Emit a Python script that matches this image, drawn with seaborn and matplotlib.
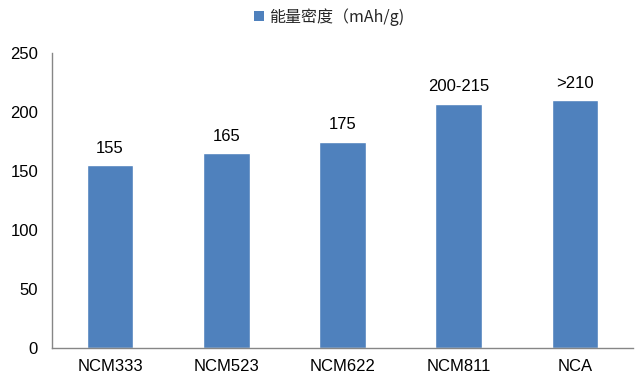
import matplotlib
matplotlib.use("Agg")
import matplotlib.pyplot as plt
import seaborn as sns
import pandas as pd
from matplotlib.patches import Patch

categories = ["NCM333", "NCM523", "NCM622", "NCM811", "NCA"]
energy_density = [155, 165, 175, 207, 210]
value_labels = ["155", "165", "175", "200-215", ">210"]
series_name = "能量密度（mAh/g)"

sns.set_theme(style="white")
plt.rcParams["font.family"] = ["Liberation Sans", "Noto Sans CJK SC", "DejaVu Sans"]

df = pd.DataFrame({"category": categories, "value": energy_density})

fig = plt.figure(figsize=(6.35, 3.76), dpi=100)
ax = fig.add_axes([52 / 635, 28 / 376, 581 / 635, 295 / 376])

bar_color = "#4F81BD"
sns.barplot(data=df, x="category", y="value", color=bar_color, width=0.4,
            saturation=1, ax=ax)

for i, (v, lab) in enumerate(zip(energy_density, value_labels)):
    ax.text(i, v + 8, lab, ha="center", va="bottom", fontsize=12, color="#000000")

ax.set_xlim(-0.5, len(categories) - 0.5)
ax.set_ylim(0, 250)
ax.set_yticks(range(0, 251, 50))
ax.set_xlabel("")
ax.set_ylabel("")

axis_color = "#868686"
for side in ["top", "right"]:
    ax.spines[side].set_visible(False)
for side in ["left", "bottom"]:
    ax.spines[side].set_color(axis_color)
    ax.spines[side].set_linewidth(1)

ax.tick_params(axis="y", which="major", direction="out", length=4, width=1,
               color=axis_color, labelsize=12, labelcolor="#000000", pad=6)
ax.tick_params(axis="x", which="major", length=0, labelsize=12,
               labelcolor="#000000", pad=8)
ax.set_xticks([i - 0.5 for i in range(len(categories) + 1)], minor=True)
ax.tick_params(axis="x", which="minor", direction="out", length=4, width=1,
               color=axis_color)

handle = Patch(facecolor=bar_color, edgecolor="none")
leg = fig.legend([handle], [series_name], loc="center", bbox_to_anchor=(329 / 635, 1 - 17 / 376),
                 frameon=False, handlelength=0.6, handleheight=0.6,
                 handletextpad=0.3,
                 prop={"family": ["Noto Sans CJK SC", "Liberation Sans"], "size": 11.5})

fig.savefig("out.png", dpi=100)
